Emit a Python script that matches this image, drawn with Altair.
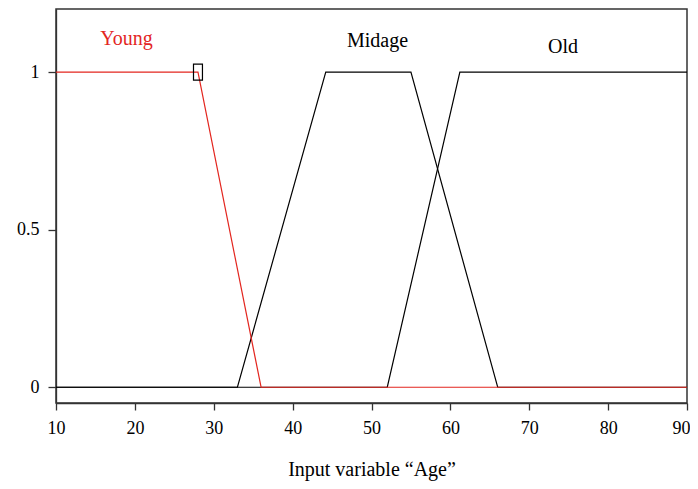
import altair as alt
import pandas as pd

young_x = [10, 28, 36, 90]
young_y = [1, 1, 0, 0]
midage_x = [10, 33, 44.2, 55, 66, 90]
midage_y = [0, 0, 1, 1, 0, 0]
old_x = [10, 52, 61.2, 90]
old_y = [0, 0, 1, 1]

label_text = ["Young", "Midage", "Old"]
label_x = [18.94, 50.76, 74.28]
label_y = [1.086, 1.079, 1.06]
label_color = ["#e3261f", "black", "black"]

marker_x = [28]
marker_y = [1]

FONT = "Liberation Serif"

rows = []
for name, xs, ys in [("Midage", midage_x, midage_y), ("Old", old_x, old_y)]:
    for i, (a, b) in enumerate(zip(xs, ys)):
        rows.append({"series": name, "x": a, "y": b, "i": i})
black_df = pd.DataFrame(rows)
young_df = pd.DataFrame({"x": young_x, "y": young_y, "i": list(range(len(young_x)))})
lab_df = pd.DataFrame({"t": label_text, "x": label_x, "y": label_y, "c": label_color})
mk_df = pd.DataFrame({"x": marker_x, "y": marker_y})

xs = alt.Scale(domain=[10, 90], nice=False, zero=False)
ys = alt.Scale(domain=[-0.05, 1.2], nice=False, zero=False)

xax = alt.Axis(values=list(range(10, 91, 10)), title="Input variable \u201cAge\u201d",
               grid=False, tickSize=7, labelPadding=9, titlePadding=22,
               labelFontSize=18, titleFontSize=20, labelFont=FONT, titleFont=FONT,
               titleFontWeight="normal", labelColor="black", titleColor="black",
               domainColor="#333", tickColor="#333", domainWidth=1.3, tickWidth=1.3,
               labelFlush=False,
               labelAlign={"condition": {"test": "datum.value == 90", "value": "right"}, "value": "center"},
               labelOffset={"condition": {"test": "datum.value == 90", "value": 3}, "value": 0})
yax = alt.Axis(values=[0, 0.5, 1], title=None, grid=False, tickSize=8, labelPadding=9,
               labelFontSize=18, labelFont=FONT, labelColor="black",
               domainColor="#333", tickColor="#333", domainWidth=1.3, tickWidth=1.3,
               labelExpr="datum.value == 0.5 ? '0.5' : datum.value")

black = alt.Chart(black_df).mark_line(color="black", strokeWidth=1.2).encode(
    x=alt.X("x:Q", scale=xs, axis=xax),
    y=alt.Y("y:Q", scale=ys, axis=yax),
    detail="series:N",
    order="i:Q",
)
red = alt.Chart(young_df).mark_line(color="#e3261f", strokeWidth=1.2).encode(
    x=alt.X("x:Q", scale=xs),
    y=alt.Y("y:Q", scale=ys),
    order="i:Q",
)
marker = alt.Chart(mk_df).mark_point(
    shape="M-0.56,-1L0.56,-1L0.56,1L-0.56,1Z", size=256, filled=False,
    color="black", strokeWidth=1.2, opacity=1
).encode(x=alt.X("x:Q", scale=xs), y=alt.Y("y:Q", scale=ys))
labels = alt.Chart(lab_df).mark_text(font=FONT, fontSize=20, align="center", baseline="alphabetic").encode(
    x=alt.X("x:Q", scale=xs),
    y=alt.Y("y:Q", scale=ys),
    text="t:N",
    color=alt.Color("c:N", scale=None),
)

chart = alt.layer(black, red, marker, labels).properties(
    width=631, height=394,
    autosize=alt.AutoSizeParams(type="none"),
    padding={"left": 48, "top": 1, "right": 3, "bottom": 85},
    background="white",
).configure_view(stroke="#333333", strokeWidth=1.5, strokeOpacity=1)

chart.save("out.html", embed_options={"renderer": "svg", "actions": False})
